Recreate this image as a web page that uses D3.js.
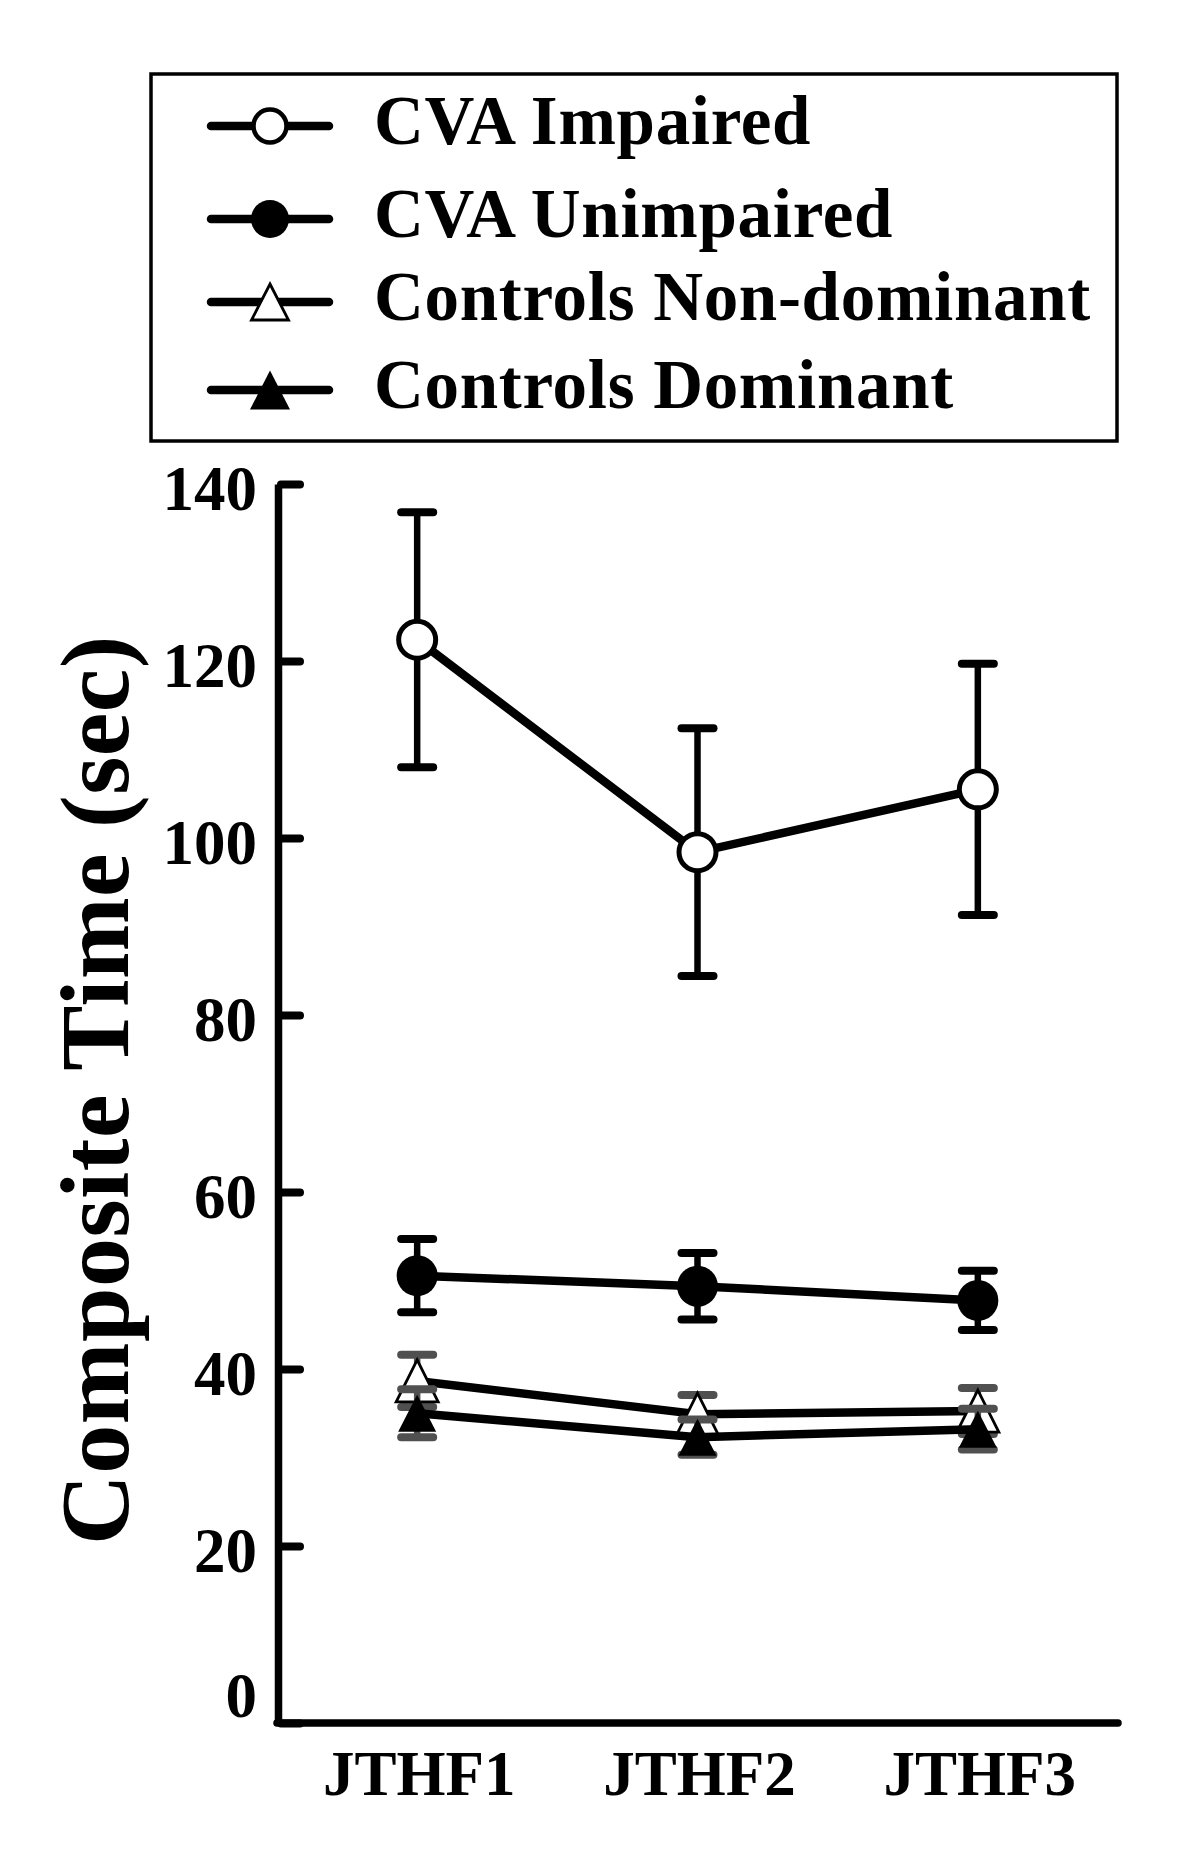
<!DOCTYPE html>
<html>
<head>
<meta charset="utf-8">
<script src="https://cdn.jsdelivr.net/npm/d3@7"></script>
<style>
  html, body { margin: 0; padding: 0; background: #fff; }
  svg { display: block; }
  text { font-family: "Liberation Serif", "Times New Roman", serif; font-weight: bold; fill: #000; }
</style>
</head>
<body>
<svg id="chart" width="1200" height="1858"></svg>
<script>
// ---- data ----
const categories = ["JTHF1", "JTHF2", "JTHF3"];
const seriesNames = ["CVA Impaired", "CVA Unimpaired", "Controls Non-dominant", "Controls Dominant"];
const cvaImpaired      = [122.4, 98.4, 105.5];
const cvaImpairedErr   = [14.4, 14.0, 14.2];
const cvaUnimpaired    = [50.55, 49.35, 47.75];
const cvaUnimpairedErr = [4.15, 3.75, 3.35];
const ctrlNonDom       = [38.65, 34.9, 35.25];
const ctrlNonDomErr    = [2.95, 2.15, 2.6];
const ctrlDom          = [35.0, 32.3, 33.2];
const ctrlDomErr       = [2.7, 2.0, 2.3];
const yTicks = [0, 20, 40, 60, 80, 100, 120, 140];
const yTitle = "Composite Time (sec)";

// ---- styles per series ----
const series = [
  { name: seriesNames[0], values: cvaImpaired,   err: cvaImpairedErr,   marker: "circleOpen",  errColor: "#000" },
  { name: seriesNames[1], values: cvaUnimpaired, err: cvaUnimpairedErr, marker: "circleFill",  errColor: "#000" },
  { name: seriesNames[2], values: ctrlNonDom,    err: ctrlNonDomErr,    marker: "triOpen",     errColor: "#505050" },
  { name: seriesNames[3], values: ctrlDom,       err: ctrlDomErr,       marker: "triFill",     errColor: "#505050" }
];

const svg = d3.select("#chart");

const x = d3.scalePoint().domain(categories).range([277, 1118]).padding(0.5);
const y = d3.scaleLinear().domain([0, 140]).range([1723, 484]);

function triPath(w, h) {
  const p = d3.path();
  p.moveTo(0, -h / 2);
  p.lineTo(w / 2, h / 2);
  p.lineTo(-w / 2, h / 2);
  p.closePath();
  return p.toString();
}

function drawMarker(g, type, legend) {
  if (type === "circleOpen") {
    g.append("circle").attr("r", legend ? 16.5 : 18.5)
      .attr("fill", "#fff").attr("stroke", "#000").attr("stroke-width", legend ? 4.5 : 5);
  } else if (type === "circleFill") {
    g.append("circle").attr("r", legend ? 19 : 20.5).attr("fill", "#000");
  } else if (type === "triOpen") {
    g.append("path").attr("d", legend ? triPath(37, 36) : triPath(42, 42))
      .attr("fill", "#fff").attr("stroke", "#000").attr("stroke-width", 2.8)
      .attr("stroke-linejoin", "miter");
  } else if (type === "triFill") {
    g.append("path").attr("d", legend ? triPath(40, 39) : triPath(38, 37))
      .attr("fill", "#000");
  }
}

// ---- axes ----
const yAxis = d3.axisLeft(y).tickValues(yTicks).tickSizeInner(-22).tickSizeOuter(0).tickPadding(21);
const gy = svg.append("g").attr("transform", "translate(278,0)").call(yAxis);
gy.select(".domain").attr("stroke", "#000").attr("stroke-width", 7.5);
gy.selectAll(".tick line").attr("stroke", "#000").attr("stroke-width", 8).attr("stroke-linecap", "round")
  .attr("x1", 3);
gy.selectAll(".tick text")
  .attr("font-size", 63).attr("font-family", "Liberation Serif, serif").attr("font-weight", "bold")
  .attr("fill", "#000")
  .attr("x", -21)
  .attr("dy", d => d === 0 ? "-0.1em" : "0.4em");

// x axis line
const xr = x.range();
svg.append("line")
  .attr("x1", xr[0]).attr("x2", xr[1])
  .attr("y1", y(0)).attr("y2", y(0))
  .attr("stroke", "#000").attr("stroke-width", 7.5).attr("stroke-linecap", "round");

// x labels
svg.append("g").selectAll("text").data(categories).join("text")
  .attr("x", d => x(d) + 2).attr("y", 1795)
  .attr("text-anchor", "middle").attr("font-size", 63)
  .text(d => d);

// y title
svg.append("text")
  .attr("transform", "translate(128," + 1090 + ") rotate(-90)")
  .attr("text-anchor", "middle").attr("font-size", 98).attr("letter-spacing", 0.5)
  .text(yTitle);

// ---- series ----
const line = d3.line().x((d, i) => x(categories[i])).y(d => y(d));
const capHalf = 16;

series.forEach(s => {
  const g = svg.append("g");
  g.append("path").attr("d", line(s.values))
    .attr("fill", "none").attr("stroke", "#000").attr("stroke-width", 8.5)
    .attr("stroke-linejoin", "round");
  const eb = g.append("g").selectAll("g").data(s.values).join("g");
  eb.append("line")
    .attr("x1", (d, i) => x(categories[i])).attr("x2", (d, i) => x(categories[i]))
    .attr("y1", (d, i) => y(d + s.err[i])).attr("y2", (d, i) => y(d - s.err[i]))
    .attr("stroke", s.errColor).attr("stroke-width", 6.5);
  [1, -1].forEach(sign => {
    eb.append("line")
      .attr("x1", (d, i) => x(categories[i]) - capHalf).attr("x2", (d, i) => x(categories[i]) + capHalf)
      .attr("y1", (d, i) => y(d + sign * s.err[i])).attr("y2", (d, i) => y(d + sign * s.err[i]))
      .attr("stroke", s.errColor).attr("stroke-width", 8).attr("stroke-linecap", "round");
  });
  s.values.forEach((v, i) => {
    const m = g.append("g").attr("transform", "translate(" + x(categories[i]) + "," + y(v) + ")");
    drawMarker(m, s.marker, false);
  });
});

// ---- legend ----
svg.append("rect")
  .attr("x", 151).attr("y", 74).attr("width", 966).attr("height", 367)
  .attr("fill", "none").attr("stroke", "#000").attr("stroke-width", 3.5);

const legendY = [126, 219, 302, 390];
const leg = svg.append("g").selectAll("g").data(series).join("g")
  .attr("transform", (d, i) => "translate(0," + legendY[i] + ")");
leg.append("line").attr("x1", 211).attr("x2", 329).attr("y1", 0).attr("y2", 0)
  .attr("stroke", "#000").attr("stroke-width", 8.5).attr("stroke-linecap", "round");
leg.each(function(d) {
  const m = d3.select(this).append("g").attr("transform", "translate(270,0)");
  drawMarker(m, d.marker, true);
});
leg.append("text").attr("x", 374).attr("y", 18)
  .attr("font-size", 69).attr("letter-spacing", 0.7)
  .text(d => d.name);
</script>
</body>
</html>
